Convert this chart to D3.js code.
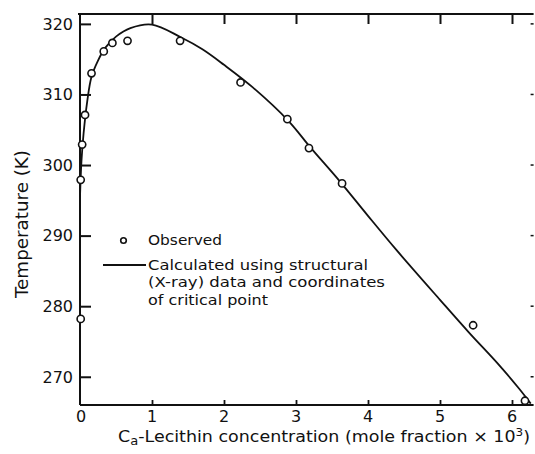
<!DOCTYPE html>
<html>
<head>
<meta charset="utf-8">
<script src="https://cdn.jsdelivr.net/npm/d3@7"></script>
<style>
  html, body { margin: 0; padding: 0; background: #fff; }
  svg text { font-family: "DejaVu Sans", sans-serif; fill: #111; }
</style>
</head>
<body>
<svg id="chart" width="535" height="454"></svg>
<script>
// ---- data ----
const obsX = [0.0, 0.0, 0.03, 0.07, 0.16, 0.33, 0.45, 0.66, 1.39, 2.23, 2.88, 3.18, 3.64, 5.46, 6.18];
const obsT = [278.2, 297.9, 302.9, 307.1, 313.0, 316.1, 317.3, 317.6, 317.6, 311.7, 306.5, 302.4, 297.4, 277.3, 266.6];

const calcX = [0.0, 0.02, 0.05, 0.1, 0.16, 0.25, 0.35, 0.5, 0.7, 1.0, 1.4, 1.7, 2.0, 2.4, 2.9, 3.2, 3.6, 4.0, 4.4, 5.0, 5.4, 5.8, 6.1, 6.26];
const calcT = [295.5, 300.5, 304.5, 309.0, 312.5, 314.8, 316.6, 318.2, 319.4, 319.9, 318.1, 316.4, 314.2, 311.0, 306.2, 302.5, 297.8, 292.8, 287.9, 280.9, 276.3, 271.9, 268.3, 266.2];

const xTicks = [0, 1, 2, 3, 4, 5, 6];
const yTicks = [270, 280, 290, 300, 310, 320];

const legendLabels = ["Observed", "Calculated using structural", "(X-ray) data and coordinates", "of critical point"];
const yTitle = "Temperature (K)";

// ---- scales ----
const svg = d3.select("#chart");
const x = d3.scaleLinear().domain([0, 6.3]).range([80, 533.6]);
const y = d3.scaleLinear().domain([266, 321.4]).range([405, 14]);

const ink = "#111";

// left axis (ticks inside)
const leftAxis = svg.append("g").attr("transform", `translate(${x(0)},0)`)
  .call(d3.axisRight(y).tickValues(yTicks).tickSize(11).tickFormat(""));
leftAxis.selectAll("path, line").attr("stroke", ink).attr("stroke-width", 2);
leftAxis.select(".domain").attr("d", `M0,${y.range()[0]}V${y.range()[1]}`);
svg.append("g").selectAll("text").data(yTicks).join("text")
  .attr("x", 73).attr("y", d => y(d)).attr("dy", "0.36em")
  .attr("text-anchor", "end").attr("font-size", 16).text(d => d);

// right axis (only short ticks)
svg.append("g").selectAll("line").data(yTicks).join("line")
  .attr("x1", x(6.3) - 3).attr("x2", x(6.3)).attr("y1", d => y(d)).attr("y2", d => y(d))
  .attr("stroke", ink).attr("stroke-width", 1.5);

// bottom axis (ticks inside)
const bottomAxis = svg.append("g").attr("transform", `translate(0,${y(266)})`)
  .call(d3.axisTop(x).tickValues(xTicks.filter(d => d > 0)).tickSize(5).tickFormat(""));
bottomAxis.selectAll("path, line").attr("stroke", ink).attr("stroke-width", 1.8);
bottomAxis.select(".domain").attr("d", `M${x(0)},0H${x.range()[1]}`);
svg.append("g").selectAll("text").data(xTicks).join("text")
  .attr("x", d => x(d) + (d === 0 ? 1 : 0)).attr("y", 422)
  .attr("text-anchor", "middle").attr("font-size", 16).text(d => d);

// top axis (ticks inside)
const topAxis = svg.append("g").attr("transform", `translate(0,${y(321.4)})`)
  .call(d3.axisBottom(x).tickValues(xTicks.filter(d => d > 0)).tickSize(10).tickFormat(""));
topAxis.selectAll("path, line").attr("stroke", ink).attr("stroke-width", 2);
topAxis.select(".domain").attr("d", `M${x(0) - 2},0H${x.range()[1]}`);

// calculated curve
const curveData = calcX.map((v, i) => [v, calcT[i]]);
svg.append("path").datum(curveData)
  .attr("fill", "none").attr("stroke", ink).attr("stroke-width", 1.8)
  .attr("d", d3.line().x(d => x(d[0])).y(d => y(d[1])).curve(d3.curveCatmullRom.alpha(0.5)));

// observed points
svg.append("g").selectAll("circle").data(obsX.map((v, i) => [v, obsT[i]])).join("circle")
  .attr("cx", d => x(d[0]) + (d[0] < 0.02 ? 0.7 : 0)).attr("cy", d => y(d[1])).attr("r", 3.6)
  .attr("fill", "#fff").attr("stroke", ink).attr("stroke-width", 1.6);

// legend
const lg = svg.append("g");
lg.append("circle").attr("cx", 123.5).attr("cy", 240.5).attr("r", 2.8)
  .attr("fill", "#fff").attr("stroke", ink).attr("stroke-width", 1.6);
lg.append("line").attr("x1", 103).attr("x2", 146).attr("y1", 265).attr("y2", 265)
  .attr("stroke", ink).attr("stroke-width", 1.8);
const legendPos = [[148, 245, 74], [148, 270, 220], [148, 287, 237], [148, 305, 120]];
lg.selectAll("text").data(legendLabels).join("text")
  .attr("x", (d, i) => legendPos[i][0]).attr("y", (d, i) => legendPos[i][1])
  .attr("textLength", (d, i) => legendPos[i][2]).attr("lengthAdjust", "spacingAndGlyphs")
  .attr("font-size", 14).text(d => d);

// axis titles
svg.append("text").attr("transform", "translate(28,224) rotate(-90)")
  .attr("text-anchor", "middle").attr("font-size", 18)
  .attr("textLength", 148).attr("lengthAdjust", "spacingAndGlyphs").text(yTitle);

const xt = svg.append("text").attr("x", 118).attr("y", 442).attr("font-size", 16)
  .attr("textLength", 412).attr("lengthAdjust", "spacingAndGlyphs");
xt.append("tspan").text("C");
xt.append("tspan").attr("font-size", 12).attr("dy", 3).text("a");
xt.append("tspan").attr("dy", -3).text("-Lecithin concentration (mole fraction \u00d7 10");
xt.append("tspan").attr("font-size", 11).attr("dy", -6).text("3");
xt.append("tspan").attr("dy", 6).text(")");
</script>
</body>
</html>
